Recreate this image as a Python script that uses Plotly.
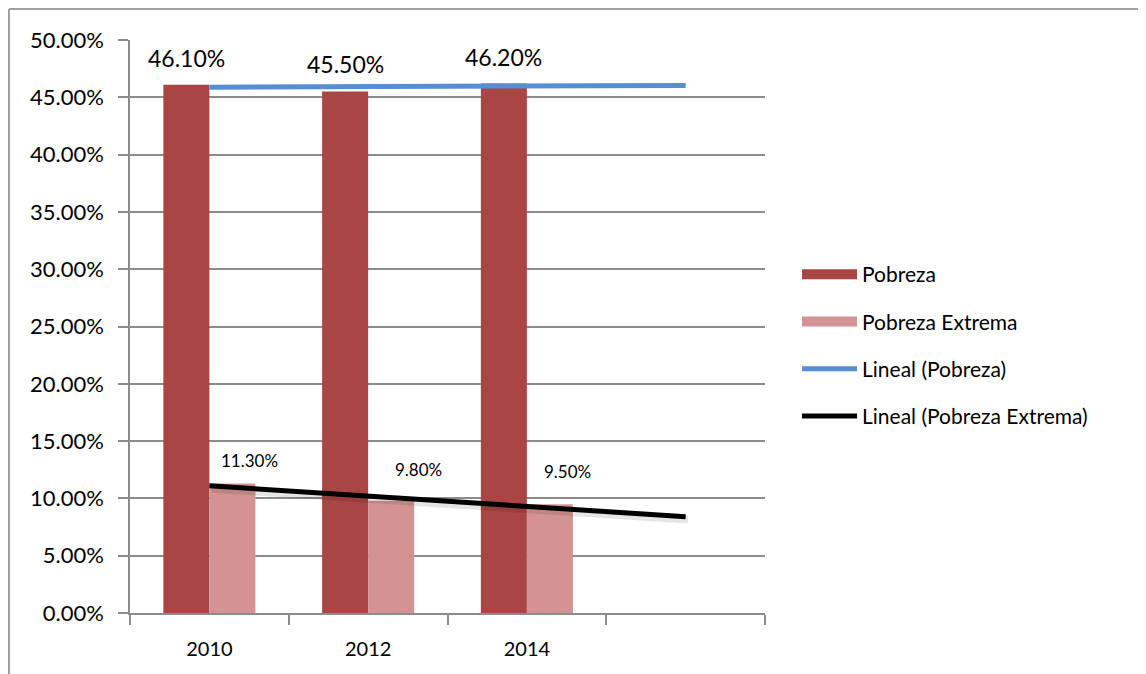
import numpy as np
import plotly.graph_objects as go

# ---- data ----
years = ["2010", "2012", "2014"]
pobreza = [0.461, 0.455, 0.462]
pobreza_extrema = [0.113, 0.098, 0.095]
y_ticks = [0.0, 0.05, 0.10, 0.15, 0.20, 0.25, 0.30, 0.35, 0.40, 0.45, 0.50]
n_forecast = 1  # trendline extended one period forward

# ---- style ----
C_POB = "#A94644"
C_EXT = "#D39393"
C_BLUE = "#558ED5"
GRID = "#8C8C8C"
FONT = "Lato"

xi = np.arange(len(years))
x_trend = np.array([xi[0], xi[-1] + n_forecast])

fig = go.Figure()

fig.add_trace(go.Bar(x=xi, y=pobreza, name="Pobreza", marker_color=C_POB,
                     marker_line_width=0, showlegend=False, legendgroup="a"))
fig.add_trace(go.Bar(x=xi, y=pobreza_extrema, name="Pobreza Extrema", marker_color=C_EXT,
                     marker_line_width=0, showlegend=False, legendgroup="b"))

# linear trendlines (least squares fit of each series)
for vals, col, nm, grp in [(pobreza, C_BLUE, "Lineal (Pobreza)", "c"),
                           (pobreza_extrema, "#000000", "Lineal (Pobreza Extrema)", "d")]:
    m, b = np.polyfit(xi, vals, 1)
    if col == "#000000":
        fig.add_trace(go.Scatter(x=x_trend + 0.015, y=m * x_trend + b - 0.0025, mode="lines",
                                 line=dict(color="rgba(0,0,0,0.10)", width=8),
                                 showlegend=False, hoverinfo="skip"))
    fig.add_trace(go.Scatter(x=x_trend, y=m * x_trend + b, mode="lines", name=nm,
                             line=dict(color=col, width=5), showlegend=False, legendgroup=grp))

# legend entries (wide swatches like the original)
for nm, col, w, grp in [("Pobreza", C_POB, 17, "a"), ("Pobreza Extrema", C_EXT, 17, "b"),
                        ("Lineal (Pobreza)", C_BLUE, 5, "c"),
                        ("Lineal (Pobreza Extrema)", "#000000", 5, "d")]:
    fig.add_trace(go.Scatter(x=[None], y=[None], mode="lines", name=nm,
                             line=dict(color=col, width=w), legendgroup=grp))

# data labels
top_dx = [0, 0, 0]
top_dy = [27, 28, 27]
low_dx = [17, 27, 18]
low_dy = [23, 31, 33]
bar_off = 0.145
for i, v in enumerate(pobreza):
    fig.add_annotation(x=xi[i] - bar_off, y=v, text=f"{v*100:.2f}%", showarrow=False,
                       xshift=top_dx[i], yshift=top_dy[i], font=dict(size=23, color="black", family=FONT))
for i, v in enumerate(pobreza_extrema):
    fig.add_annotation(x=xi[i] + bar_off, y=v, text=f"{v*100:.2f}%", showarrow=False,
                       xshift=low_dx[i], yshift=low_dy[i], font=dict(size=17, color="black", family=FONT))

# figure geometry (page body has an 8px margin)
W, H = 1138, 666
L, R, T, B = 122, 757, 32, 605
pw, ph = R - L, B - T
frame = dict(color="#A0A0A0", width=2)
# outer chart frame: top and left edges (the rest runs off the picture)
fig.add_shape(type="line", xref="paper", yref="paper",
              x0=(1 - L) / pw, x1=(W + 20 - L) / pw, y0=(B - 1) / ph, y1=(B - 1) / ph,
              line=frame, layer="below")
fig.add_shape(type="line", xref="paper", yref="paper",
              x0=(1 - L) / pw, x1=(1 - L) / pw, y0=(B - H - 20) / ph, y1=(B - 1) / ph,
              line=frame, layer="below")

fig.update_layout(
    width=W, height=H,
    margin=dict(l=L, r=W - R, t=T, b=H - B, autoexpand=False),
    paper_bgcolor="white", plot_bgcolor="white",
    barmode="group", bargap=0.42, bargroupgap=0,
    font=dict(family=FONT, size=20, color="black"),
    legend=dict(x=(797 - 8 - L) / pw, y=(B - 246) / ph, xanchor="left", yanchor="top",
                font=dict(size=21, family=FONT), itemwidth=55,
                tracegroupgap=17, traceorder="grouped", bgcolor="rgba(0,0,0,0)"),
    xaxis=dict(range=[-0.5, len(years) + n_forecast - 0.5], automargin=False,
               tickmode="array", tickvals=list(xi), ticktext=years, ticks="",
               showgrid=False, zeroline=False, showline=True, linecolor=GRID, linewidth=1.5,
               tickfont=dict(size=20), ticklabelstandoff=17,
               minor=dict(tick0=-0.5, dtick=1, ticks="outside", ticklen=10,
                          tickcolor=GRID, tickwidth=1.5, showgrid=False)),
    yaxis=dict(range=[0, 0.5], tickmode="array", tickvals=y_ticks, tickformat=".2%",
               automargin=False,
               ticks="outside", ticklen=10, tickcolor=GRID, tickwidth=1.5,
               showgrid=True, gridcolor=GRID, gridwidth=1.5, zeroline=False,
               showline=True, linecolor=GRID, linewidth=1.5,
               tickfont=dict(size=22), ticklabelstandoff=10),
)

fig.write_html("out.html")
